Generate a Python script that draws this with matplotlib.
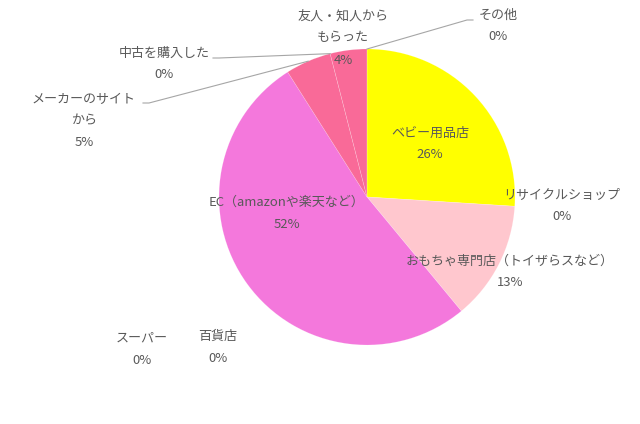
import matplotlib
matplotlib.use("Agg")
import matplotlib.pyplot as plt
import numpy as np

plt.rcParams['font.family'] = ['Noto Sans CJK JP', 'DejaVu Sans']

categories = ["ベビー用品店", "リサイクルショップ", "おもちゃ専門店（トイザらスなど）",
              "スーパー", "百貨店", "EC（amazonや楽天など）",
              "メーカーのサイト\nから", "中古を購入した", "友人・知人から\nもらった", "その他"]
values = [26, 0, 13, 0, 0, 52, 5, 0, 4, 0]
pct_labels = ["26%", "0%", "13%", "0%", "0%", "52%", "5%", "0%", "4%", "0%"]
colors = ["#FFFF00", "#FFC7CE", "#FFC7CE", "#F478DC", "#F478DC", "#F478DC",
          "#F96A98", "#F96A98", "#F96A98", "#F96A98"]

# label positions in figure pixels (x, y from top)
label_pos = [(430, 144), (562, 206), (510, 272), (142, 349), (218, 347),
             (287, 213), (84, 121), (164, 64), (343, 38), (498, 26)]
leader = {6: (143, 103), 7: (213, 58), 9: (473, 20)}

W, H = 640, 424
fig = plt.figure(figsize=(6.4, 4.24), dpi=100)
ax = fig.add_axes([0, 0, 1, 1])

cx, cy, r = 367, H - 197, 148
wedges, _ = ax.pie(values, colors=colors, startangle=90, counterclock=False,
                   radius=r, center=(cx, cy), frame=True,
                   wedgeprops=dict(linewidth=0.4, edgecolor=(1, 1, 1, 0.25)))
ax.set_xlim(0, W)
ax.set_ylim(0, H)
ax.set_aspect('equal')
ax.axis('off')

tc = "#595959"
fs = 9.4
for i, (cat, pl) in enumerate(zip(categories, pct_labels)):
    x, y = label_pos[i]
    txt = cat + "\n" + pl
    ax.text(x, H - y, txt, ha='center', va='center', fontsize=fs, color=tc,
            linespacing=1.9)

total = sum(values)
cum = np.cumsum([0] + values)
for i, (lx, ly) in leader.items():
    mid = (cum[i] + cum[i + 1]) / 2 / total * 360
    ang = np.deg2rad(90 - mid)
    px, py = cx + r * np.cos(ang), cy + r * np.sin(ang)
    s = 6 if px > lx else -6
    ax.plot([lx, lx + s, px], [H - ly, H - ly, py], color="#A6A6A6", lw=0.8)

fig.savefig("out.png", dpi=100, facecolor="white")
